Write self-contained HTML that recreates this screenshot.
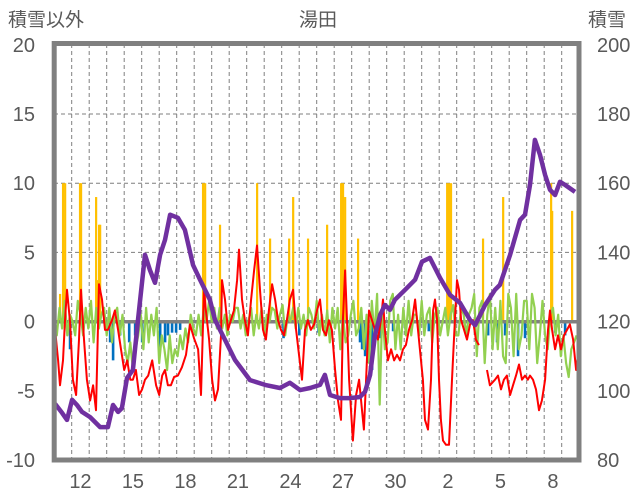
<!DOCTYPE html>
<html><head><meta charset="utf-8">
<style>
html,body{margin:0;padding:0;background:#fff;}
svg{display:block;font-family:"Liberation Sans","Noto Sans CJK JP",sans-serif;}
</style></head>
<body>
<svg id="chart" width="636" height="501" viewBox="0 0 636 501">
<text x="8" y="26" font-size="19" fill="#595959">積雪以外</text>
<text x="318" y="26" font-size="19" fill="#595959" text-anchor="middle">湯田</text>
<text x="588" y="26" font-size="19" fill="#595959">積雪</text>
<g id="grid"></g>
<g id="bars"></g>
<line x1="54" x2="580" y1="321.7" y2="321.7" stroke="#808080" stroke-width="3.5"/>
<g id="lines"></g>
<rect x="54.2" y="43.5" width="524.8" height="416.5" fill="none" stroke="#808080" stroke-width="5"/>
<g id="axes"></g>
</svg>
<script>
const leftTicks=[20,15,10,5,0,-5,-10];
const rightTicks=[200,180,160,140,120,100,80];
const dayLabels=["12","15","18","21","24","27","30","2","5","8"];
const dayLabelPos=[1,4,7,10,13,16,19,22,25,28];
const snowT=[0.05,0.45,0.73,1.02,1.30,1.59,2.05,2.62,3.07,3.36,3.65,3.87,4.16,4.50,4.79,5.19,5.47,5.76,6.05,6.33,6.62,7.07,7.47,7.93,8.33,8.90,9.19,9.76,10.33,11.19,12.05,12.90,13.47,14.05,14.62,15.19,15.47,15.76,16.33,16.90,17.47,17.76,18.05,18.33,18.62,18.90,19.19,19.47,20.05,20.62,21.02,21.47,22.05,22.62,23.19,23.76,24.05,24.62,25.19,25.47,26.05,26.62,26.90,27.19,27.47,27.76,28.05,28.33,28.62,28.90,29.19,29.76];
const snowV=[96.2,93.6,91.6,97.4,95.9,93.9,92.4,89.5,89.5,95.9,93.9,95.0,103.7,106.0,120.5,139.3,134.9,131.2,139.3,143.6,150.9,150.0,146.5,136.4,132.1,126.3,120.5,114.7,108.9,103.1,101.7,100.8,102.3,100.2,100.8,101.7,104.6,98.8,97.9,97.9,98.2,99.7,104.6,116.1,121.9,124.8,123.4,126.3,129.2,132.1,137.3,138.4,132.6,127.7,125.4,120.5,119.0,124.8,129.2,130.6,139.3,149.4,150.9,159.5,172.5,168.2,162.4,158.1,156.6,160.4,159.5,157.5];
const redT=[0.05,0.22,0.33,0.50,0.62,0.73,0.90,1.07,1.25,1.42,1.53,1.70,1.87,2.05,2.22,2.39,2.56,2.73,2.90,3.07,3.30,3.47,3.65,3.82,4.00,4.17,4.35,4.50,4.67,4.85,5.02,5.19,5.37,5.60,5.82,6.00,6.17,6.33,6.50,6.67,6.85,7.07,7.30,7.53,7.76,7.99,8.22,8.39,8.56,8.67,8.85,9.02,9.19,9.36,9.53,9.59,9.76,9.93,10.10,10.27,10.45,10.56,10.73,10.90,11.07,11.25,11.42,11.59,11.76,11.93,12.10,12.27,12.45,12.62,12.79,12.96,13.13,13.30,13.47,13.65,13.82,13.99,14.16,14.33,14.50,14.67,14.85,15.02,15.19,15.36,15.53,15.70,15.87,16.05,16.22,16.39,16.50,16.62,16.73,16.85,16.96,17.07,17.25,17.42,17.59,17.70,17.82,17.99,18.16,18.33,18.50,18.67,18.79,18.90,19.07,19.25,19.42,19.59,19.76,19.93,20.10,20.27,20.45,20.62,20.79,20.90,21.07,21.19,21.36,21.53,21.65,21.76,21.88,21.99,22.10,22.22,22.39,22.56,22.73,22.90,23.02,23.13,23.25,23.42,23.59,23.76,23.93,24.10,24.27,24.50,24.73,24.90,25.19,25.36,25.53,25.70,25.87,26.05,26.22,26.39,26.56,26.73,26.90,27.07,27.19,27.36,27.53,27.70,27.87,28.05,28.22,28.33,28.45,28.62,28.79,28.96,29.13,29.30,29.47,29.65,29.82,29.93];
const redV=[-0.6,-2.8,-4.6,-2.8,0.1,2.3,0,-4.2,-5.3,-1.3,2.3,-1.3,-4.2,-5.7,-4.6,-6.4,2.7,1.6,-0.6,-0.6,0.1,0.8,-0.6,-2.0,-3.5,-2.8,-4.2,-4.2,-3.5,-5.3,-4.9,-4.2,-3.9,-2.8,-4.6,-5.3,-3.9,-3.5,-4.6,-4.6,-4.0,-3.9,-3.3,-2.4,-0.2,-1.2,-2.0,-5.3,2.3,0.8,-1.3,-4.2,-5.7,-4.9,-1.0,3.0,1.6,-0.6,0.1,0.8,3.0,5.2,1.6,0.1,-1.0,1.6,3.7,5.5,2.3,-0.6,-1.3,0.8,2.7,1.6,0.1,-0.6,-1.0,0.1,1.6,2.3,-0.6,-2.4,-4.2,-0.6,0.1,-0.6,-0.2,0.8,1.6,-0.6,-1.0,0.1,-0.6,-3.5,-5.7,-7.1,0.1,3.7,0.1,-4.2,-6.4,-8.6,-5.3,-4.2,-6.4,-7.8,-4.2,0.8,0.1,-0.6,-1.3,0.1,1.6,-0.6,-2.8,-2.0,-2.8,-2.4,-2.8,-2.0,-1.7,-0.6,0.1,1.6,-0.6,-2.0,-4.2,-7.1,-7.8,-4.2,0.8,1.6,0.1,-4.2,-7.1,-8.6,-8.9,-8.9,-4.2,0.1,3.0,2.3,0.1,-0.6,-1.3,-0.2,0.1,-1.3,-1.7,null,-3.5,-4.6,-4.2,-3.9,-4.9,-4.2,-3.9,-5.3,-4.6,-3.9,-3.1,-4.2,-3.9,-4.2,-3.9,-4.2,-4.9,-6.4,-5.7,-4.2,-0.6,0.8,-0.6,-2.0,-1.0,-2.0,-1.0,-0.6,-0.2,-1.3,-3.5,-2.4];
const greenStep=0.15;
const greenV=[0.5,-1,1,-0.5,1.5,-1,0.5,0,-1,1.5,0.5,-1,1,-0.5,1.5,-1.5,1,-0.5,0.5,1,
-1,1,-1.5,0.5,1,-1,0.5,-2,-3,-1.5,-3.5,-2,-1,0.5,-2,1,-1.5,0.5,-1,1,
-3,-1,-2,-3.5,-1,-3,-2,-2.5,-1,-2,-0.5,-1.5,0.5,-0.5,-1,0.5,-1,1,0,1.5,
0,1,-0.5,1,-0.5,0.5,-1,0.5,0,1,1,-0.5,0.5,-1,0,1,-1,0.5,-0.5,1,
-1,0.5,0,1,0.8,-0.5,0.5,1.2,-1,0.5,0,1,-0.5,1,-0.5,0.5,-1,1,0.5,-0.5,
1.5,-1,0.5,-1,0.8,-1.5,1,-0.5,1,-2,0.5,-1.5,-1,0.5,1.5,-1,-0.5,1,-2,0.5,
-3,1.5,-1,2,-6,1,-2,-1.5,1.5,2,-2,0.5,-2,1,-1,1.5,-1,0.5,0.5,-1,
1.5,-1,0.5,1,-1.5,0.5,1,-1,0,1,-1,0.5,1.2,-1,-1,1,0.5,-1,0.5,1,
2,-2.5,1,1.5,-3,0.5,2,-2,1,-2,1.5,-2.5,-3,2,1,-2.5,2,-2,-1,1.5,
1.5,-2,2,1,-3,-1,1.5,-1,-2,0.5,1,-1,0.5,-2.5,-1,-3,-4,-2,-1.5,-1];
const yellowT=[0.33,0.50,0.62,1.47,1.53,2.39,2.45,2.56,2.62,8.50,8.62,9.47,11.59,12.33,13.42,13.65,14.50,15.59,16.39,16.50,16.62,17.36,22.45,22.56,22.67,24.50,25.65,28.39,28.45,29.59];
const yellowV=[2,10,10,10,10,9,3,7,7,10,10,7,10,6,6,9,6,7,10,10,9,6,10,10,10,6,9,10,8,8];
const blueT=[0.05,0.9,3.19,3.36,3.76,4.28,4.62,5.02,6.05,6.33,6.50,6.73,6.96,7.19,13.1,14.0,15.1,17.47,17.59,17.76,17.93,18.16,18.62,19.36,20.05,21.4,24.79,25.30,25.76,26.5,26.9,28.62,29.19];
const blueV=[-1,-2,-1.5,-2.8,-1,-1.5,-1,-1.5,-2,-1.5,-1,-0.8,-0.8,-0.6,-1.2,-1,-0.8,-1.5,-2,-2.5,-3,-3.5,-1.2,-0.7,-0.5,-0.7,-1,-1.5,-1,-2.5,-1.2,-0.8,-1];

const NS="http://www.w3.org/2000/svg";
const X0=54.2, DAYW=17.5, Y20=44.8, Y_10=460;
const x=d=>X0+d*DAYW;
const yL=v=>Y20+(20-v)*(Y_10-Y20)/30;
const yR=v=>Y20+(200-v)*(Y_10-Y20)/120;
function mk(tag,attrs,parent){const e=document.createElementNS(NS,tag);for(const k in attrs)e.setAttribute(k,attrs[k]);parent.appendChild(e);return e;}
const grid=document.getElementById('grid'),bars=document.getElementById('bars'),lines=document.getElementById('lines'),axes=document.getElementById('axes');
for(let d=1;d<30;d++){const l=mk('line',{x1:x(d),x2:x(d),y1:44,y2:460,stroke:'#7f7f7f','stroke-width':1,'stroke-dasharray':'4,3'},grid);

}
[5,10,15].forEach(v=>{const l=mk('line',{x1:54,x2:580,y1:yL(v),y2:yL(v),stroke:'#7f7f7f','stroke-width':1,'stroke-dasharray':'4,3'},grid);

});
leftTicks.forEach(v=>{const t=mk('text',{x:35,y:yL(v)+7,'font-size':20,fill:'#595959','text-anchor':'end'},axes);t.textContent=v;

});
rightTicks.forEach(v=>{const t=mk('text',{x:597,y:yR(v)+7,'font-size':20,fill:'#595959'},axes);t.textContent=v;

});
dayLabels.forEach((s,i)=>{const t=mk('text',{x:x(dayLabelPos[i]+0.5),y:488,'font-size':20,fill:'#595959','text-anchor':'middle'},axes);t.textContent=s;

});
yellowT.forEach((d,i)=>{const v=yellowV[i];const r=mk('rect',{x:x(d)-1,y:yL(v),width:2.2,height:yL(0)-yL(v),fill:'#ffc000'},bars);

});
blueT.forEach((d,i)=>{const v=blueV[i];const r=mk('rect',{x:x(d)-1.2,y:yL(0),width:2.6,height:yL(v)-yL(0),fill:'#0070c0'},bars);

});
function path(ts,vs,sc){let s='',pen=false;ts.forEach((t,i)=>{const v=vs[i];if(v===null){pen=false;return;}s+=(pen?'L':'M')+x(t).toFixed(1)+' '+sc(v).toFixed(1);pen=true;});return s;}
const g=mk('path',{d:path(greenV.map((_,i)=>i*greenStep),greenV,yL),fill:'none',stroke:'#92d050','stroke-width':2.2,'stroke-linejoin':'round'},lines);


const r=mk('path',{d:path(redT,redV,yL),fill:'none',stroke:'#ff0000','stroke-width':2,'stroke-linejoin':'round'},lines);


const p=mk('path',{d:path(snowT,snowV,yR),fill:'none',stroke:'#7030a0','stroke-width':4.5,'stroke-linejoin':'round'},lines);


</script>
</body></html>
